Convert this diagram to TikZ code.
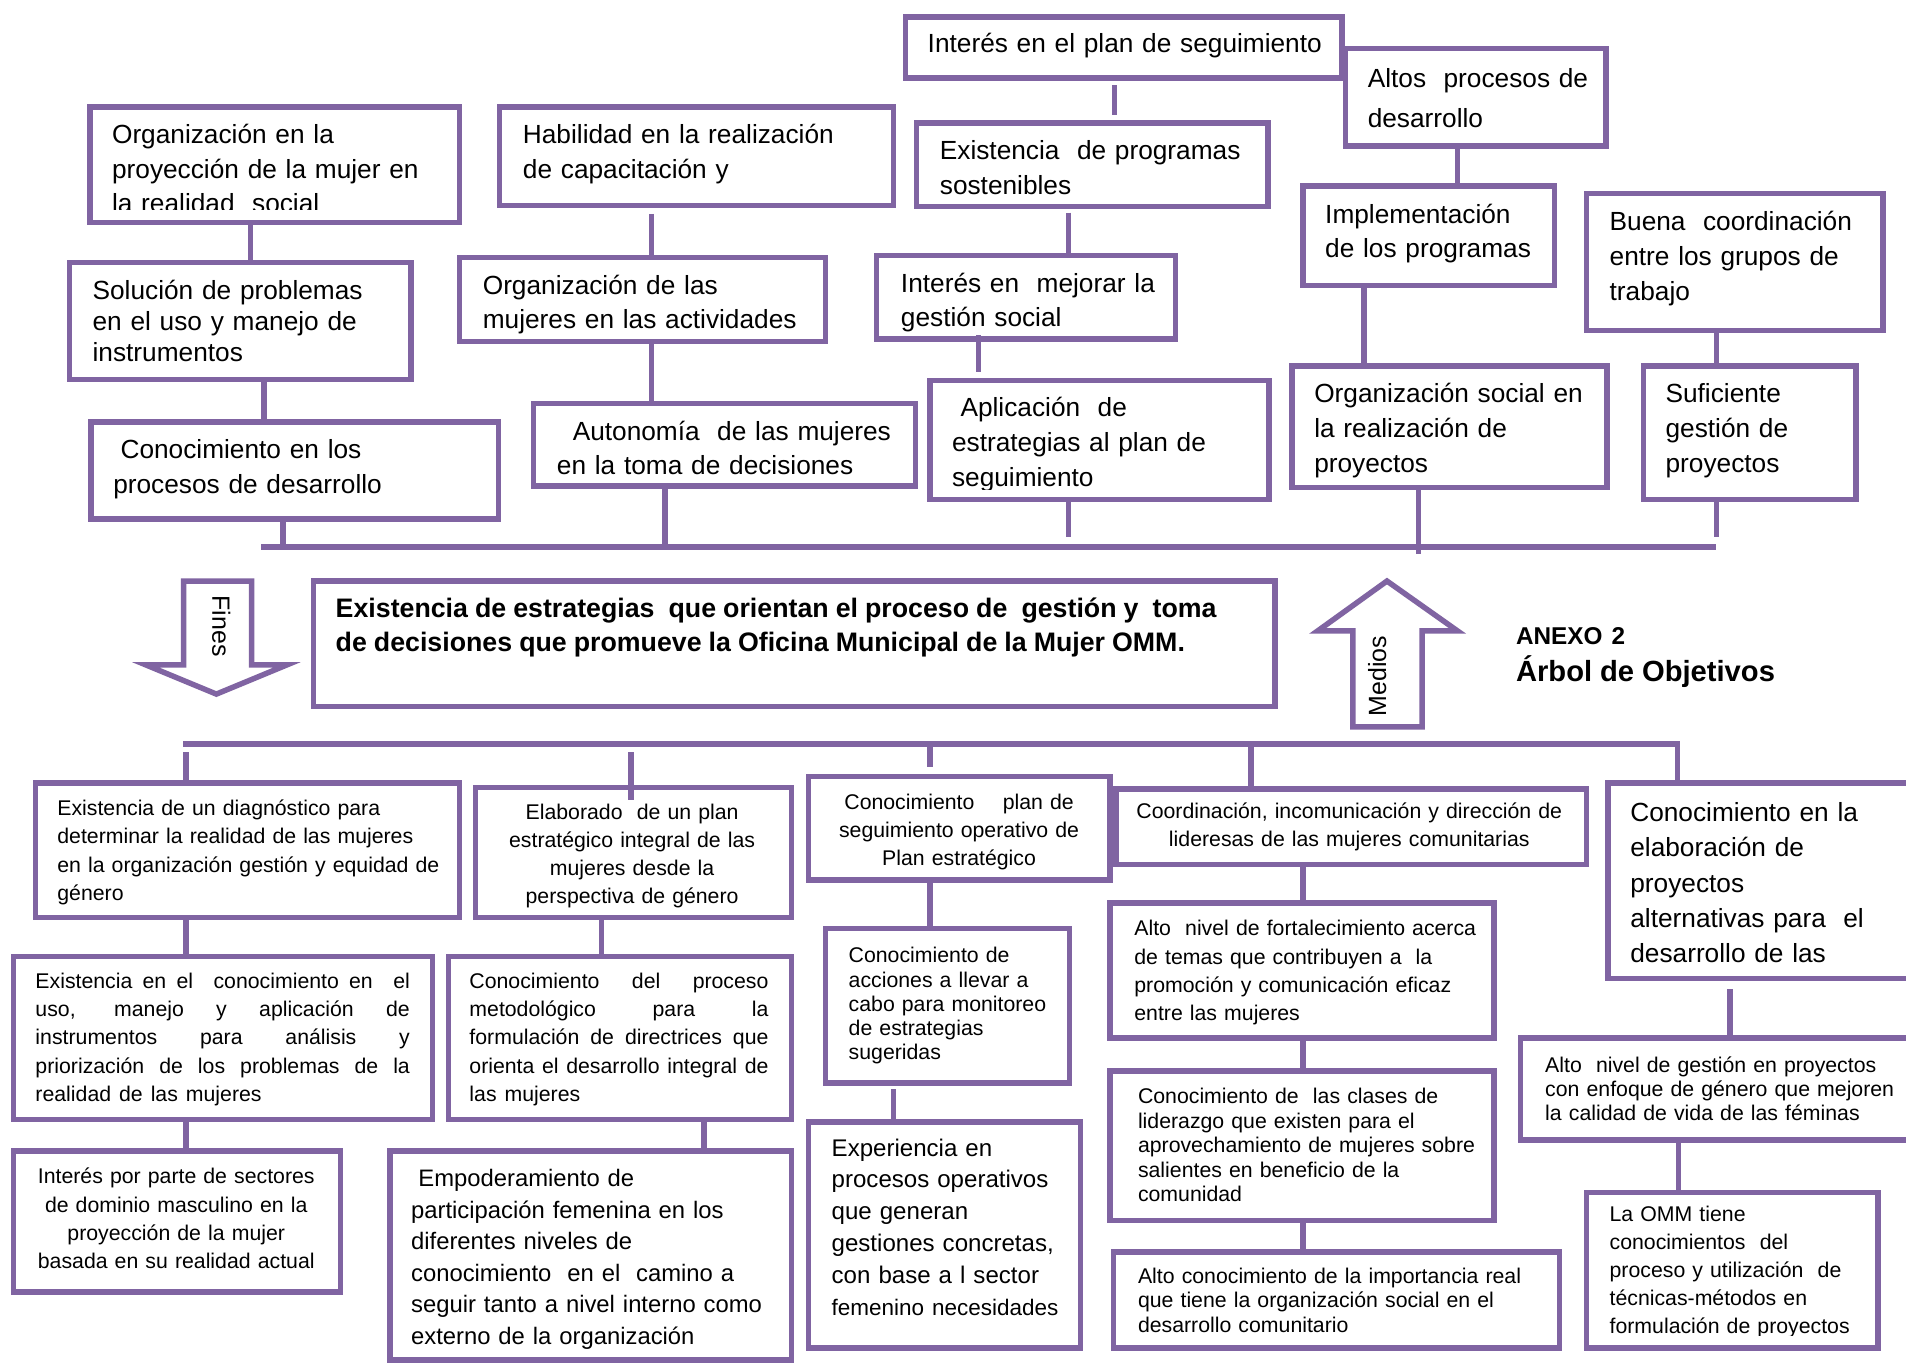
\documentclass[tikz,border=0pt]{standalone}
\usepackage{fontspec}
\setmainfont[WordSpace=1.35]{Liberation Sans}
\definecolor{pur}{HTML}{8064A2}
\tikzset{
  box/.style={draw=pur, line width=4.5pt, fill=white, inner sep=0pt, outer sep=0pt, anchor=north west},
  conn/.style={draw=pur, line width=4.5pt},
  bigarrow/.style={draw=pur, line width=4.5pt, fill=white, line join=miter},
  txt/.style={anchor=base west, inner sep=0pt, align=left, text width=#1},
  ctxt/.style={anchor=base, inner sep=0pt, align=center, text width=#1},
  jtxt/.style={anchor=base west, inner sep=0pt, align=justify, text width=#1},
  fb/.style={font=\fontsize{21.6}{#1}\selectfont},
  fs/.style={font=\fontsize{17.5}{#1}\selectfont},
}
\newcommand\mybox[5]{\node[box, minimum width={#4-#2}, minimum height={#5-#3}] (#1) at (#2,#3) {};}
\begin{document}
\begin{tikzpicture}[x=1pt,y=-1pt]
\useasboundingbox (0,0) rectangle (1568,1124);
\fill[white] (0,0) rectangle (1568,1124);

% ---------------- top boxes ----------------
\mybox{t1}{745}{14}{1104}{64}
\mybox{t2}{1107}{40}{1321}{120}
\mybox{t3}{74}{88}{378}{183}
\mybox{t4}{411}{88}{735}{169}
\mybox{t5}{754}{101}{1043}{170}
\mybox{t6}{1072}{153}{1279}{235}
\mybox{t7}{1305}{159}{1549}{272}
\mybox{t8}{57}{216}{338}{312}
\mybox{t9}{378}{212}{679}{281}
\mybox{t10}{721}{210}{967}{279}
\mybox{t11}{75}{347}{410}{427}
\mybox{t12}{439}{332}{753}{400}
\mybox{t13}{765}{313}{1044}{411}
\mybox{t14}{1063}{301}{1322}{401}
\mybox{t15}{1352}{301}{1527}{411}

\node[txt=345pt, fb=28] (t1x) at (763,43) {Interés en el plan de seguimiento};
\node[txt=200pt, fb=33] (t2x) at (1125,72) {Altos~ procesos de\\desarrollo};
\begin{scope}
\clip (74,88) rectangle (378,172);
\node[txt=285pt, fb=28.5] (t3x) at (92,118) {Organización en la\\proyección de la mujer en\\la realidad~ social};
\end{scope}
\node[txt=300pt, fb=29] (t4x) at (430,118) {Habilidad en la realización\\de capacitación y};
\node[txt=270pt, fb=29] (t5x) at (773,131) {Existencia~ de programas\\sostenibles};
\node[txt=195pt, fb=28] (t6x) at (1090,184) {Implementación\\de los programas};
\node[txt=225pt, fb=28.5] (t7x) at (1324,190) {Buena~ coordinación\\entre los grupos de\\trabajo};
\node[txt=265pt, fb=25.5] (t8x) at (76,246) {Solución de problemas\\en el uso y manejo de\\instrumentos};
\begin{scope}
\clip (378,212) rectangle (679,275);
\node[txt=280pt, fb=28] (t9x) at (397,242) {Organización de las\\mujeres en las actividades};
\end{scope}
\begin{scope}
\clip (721,210) rectangle (967,273);
\node[txt=225pt, fb=28] (t10x) at (741,241) {Interés en~ mejorar la\\gestión social};
\end{scope}
\node[txt=315pt, fb=29] (t11x) at (93,377) {\hspace*{6pt}Conocimiento en los\\procesos de desarrollo};
\node[txt=295pt, fb=28] (t12x) at (458,362) {\hspace*{13pt}Autonomía~ de las mujeres\\en la toma de decisiones};
\begin{scope}
\clip (765,313) rectangle (1044,403);
\node[txt=260pt, fb=28.5] (t13x) at (783,343) {\hspace*{7pt}Aplicación~ de\\estrategias al plan de\\seguimiento};
\end{scope}
\begin{scope}
\clip (1063,301) rectangle (1322,393);
\node[txt=240pt, fb=29] (t14x) at (1081,331) {Organización social en\\la realización de\\proyectos};
\end{scope}
\node[txt=155pt, fb=29] (t15x) at (1370,331) {Suficiente\\gestión de\\proyectos};

% top connectors
\draw[conn] ([yshift=-6pt]917,0 |- t1.south) -- ([yshift=6pt]917,0 |- t5.north);
\draw[conn] (1199,0 |- t2.south) -- (1199,0 |- t6.north);
\draw[conn] (206,0 |- t3.south) -- (206,0 |- t8.north);
\draw[conn] ([yshift=-7pt]536,0 |- t4.south) -- (536,0 |- t9.north);
\draw[conn] ([yshift=-5pt]879,0 |- t5.south) -- (879,0 |- t10.north);
\draw[conn] (1122,0 |- t6.south) -- (1122,0 |- t14.north);
\draw[conn] (1412,0 |- t7.south) -- (1412,0 |- t15.north);
\draw[conn] (217,0 |- t8.south) -- (217,0 |- t11.north);
\draw[conn] (536,0 |- t9.south) -- (536,0 |- t12.north);
\draw[conn] ([yshift=3pt]805,0 |- t10.south) -- ([yshift=7pt]805,0 |- t13.north);
\coordinate (barL) at (217,450);
\coordinate (barR) at (1412,450);
\draw[conn] (233,0 |- t11.south) -- (233,0 |- barL);
\draw[conn] (547,0 |- t12.south) -- (547,0 |- barL);
\draw[conn] (879,0 |- t13.south) -- ([yshift=8pt]879,0 |- barL);
\draw[conn] (1167,0 |- t14.south) -- ([yshift=-6pt]1167,0 |- barL);
\draw[conn] (1412,0 |- t15.south) -- ([yshift=8pt]1412,0 |- barL);
\draw[conn] ([xshift=-2.25pt]barL) -- (barR);

% ---------------- middle ----------------
\mybox{core}{258}{478}{1049}{581}
\node[txt=780pt, font=\fontsize{22}{28}\selectfont\bfseries] (corex) at (276,508) {\spaceskip=5.8pt plus 2pt minus 1pt Existencia de estrategias\ \ que orientan el proceso de\ \ gestión y\ \ toma\\de decisiones que promueve la Oficina Municipal de la Mujer OMM.};

\draw[bigarrow] (151,478) -- (207,478) -- (207,547) -- (236,547) -- (178,571) -- (120,547) -- (151,547) -- cycle;
\node[rotate=-90, inner sep=0pt, font=\fontsize{20.5}{24}\selectfont] (fines) at (182,515) {Fines};

\draw[bigarrow] (1141,478) -- (1199,519) -- (1170,519) -- (1170,598) -- (1113,598) -- (1113,519) -- (1084,519) -- cycle;
\node[rotate=90, inner sep=0pt, font=\fontsize{20.5}{24}\selectfont] (medios) at (1133,556) {Medios};

\node[anchor=base west, inner sep=0pt, font=\fontsize{20}{24}\selectfont\bfseries] (anexo) at (1247,530) {ANEXO 2};
\node[anchor=base west, inner sep=0pt, font=\fontsize{24}{28}\selectfont\bfseries] (arbol) at (1247,561) {\spaceskip=6.5pt Árbol de Objetivos};

% ---------------- bottom boxes ----------------
\mybox{b1}{29}{644}{378}{755}
\mybox{b2}{391}{648}{651}{755}
\mybox{b3}{665}{639}{913}{724}
\mybox{b4}{918}{649}{1305}{711}
\mybox{b5}{1323}{644}{1580}{805}
\mybox{c1}{11}{787}{356}{921}
\mybox{c2}{369}{787}{651}{921}
\mybox{c3}{679}{764}{880}{891}
\mybox{c4}{913}{743}{1229}{854}
\mybox{c5}{1251}{854}{1580}{938}
\mybox{d1}{11}{947}{280}{1063}
\mybox{d2}{321}{947}{651}{1119}
\mybox{d3}{665}{923}{889}{1109}
\mybox{d4}{913}{881}{1229}{1004}
\mybox{d5}{1305}{981}{1545}{1109}
\mybox{e4}{916}{1030}{1283}{1109}

\node[txt=330pt, fs=23.3] (b1x) at (47,671) {Existencia de un diagnóstico para\\determinar la realidad de las mujeres\\en la organización gestión y equidad de\\género};
\node[ctxt=250pt, fs=23] (b2x) at (520,674) {Elaborado~ de un plan\\estratégico integral de las\\mujeres desde la\\perspectiva de género};
\node[ctxt=240pt, fs=23] (b3x) at (789,666) {Conocimiento~~~ plan de\\seguimiento operativo de\\Plan estratégico};
\node[ctxt=385pt, fs=23] (b4x) at (1110,673) {Coordinación, incomunicación y dirección de\\lideresas de las mujeres comunitarias};
\node[txt=230pt, fb=29] (b5x) at (1341,676) {Conocimiento en la\\elaboración de\\proyectos\\alternativas para~ el\\desarrollo de las};

\node[jtxt=308pt, fs=23.3] (c1x) at (29,813) {Existencia en el~ conocimiento en~ el\linebreak uso, manejo y aplicación de\linebreak instrumentos para análisis y\linebreak priorización de los problemas de la\linebreak realidad de las mujeres};
\node[jtxt=246pt, fs=23.3] (c2x) at (386,813) {Conocimiento del proceso\linebreak metodológico para la\linebreak formulación de directrices que\linebreak orienta el desarrollo integral de\linebreak las mujeres};
\node[txt=180pt, fs=20] (c3x) at (698,792) {Conocimiento de\\acciones a llevar a\\cabo para monitoreo\\de estrategias\\sugeridas};
\node[txt=295pt, fs=23.3] (c4x) at (933,770) {Alto~ nivel de fortalecimiento acerca\\de temas que contribuyen a~ la\\promoción y comunicación eficaz\\entre las mujeres};
\node[txt=300pt, fs=20] (c5x) at (1271,882) {Alto~ nivel de gestión en proyectos\\con enfoque de género que mejoren\\la calidad de vida de las féminas};

\node[ctxt=260pt, fs=23.3] (d1x) at (145,974) {Interés por parte de sectores\\de dominio masculino en la\\proyección de la mujer\\basada en su realidad actual};
\node[txt=312pt, font=\fontsize{19.6}{26}\selectfont] (d2x) at (338,976) {\hspace*{6pt}Empoderamiento de\\participación femenina en los\\diferentes niveles de\\conocimiento~ en el~ camino a\\seguir tanto a nivel interno como\\externo de la organización};
\node[txt=200pt, font=\fontsize{19.8}{26.3}\selectfont] (d3x) at (684,951) {Experiencia en\\procesos operativos\\que generan\\gestiones concretas,\\con base a l sector\\{\fontsize{18.5}{26.3}\selectfont femenino necesidades}};
\node[txt=292pt, fs=20.2] (d4x) at (936,908) {Conocimiento de~ las clases de\\liderazgo que existen para el\\aprovechamiento de mujeres sobre\\salientes en beneficio de la\\comunidad};
\begin{scope}
\clip (1305,981) rectangle (1545,1098.5);
\node[txt=222pt, fs=23] (d5x) at (1324,1005) {La OMM tiene\\conocimientos~ del\\proceso y utilización~ de\\técnicas-métodos en\\formulación de proyectos};
\end{scope}
\node[txt=345pt, fs=20] (e4x) at (936,1056) {Alto conocimiento de la importancia real\\que tiene la organización social en el\\desarrollo comunitario};

% bottom connectors
\coordinate (bbL) at (153,612);
\coordinate (bbR) at (1380,612);
\draw[conn] ([xshift=-2.25pt]bbL) -- ([xshift=2.25pt]bbR);
\draw[conn] (bbR) -- (1380,0 |- b5.north);
\draw[conn] ([yshift=-7pt]bbL) -- (153,0 |- b1.north);
\draw[conn] ([yshift=-7pt]519,0 |- bbL) -- ([yshift=-10pt]519,0 |- b2.north);
\draw[conn] (765,0 |- bbL) -- ([yshift=8pt]765,0 |- b3.north);
\draw[conn] (1029,0 |- bbL) -- (1029,0 |- b4.north);
\draw[conn] (153,0 |- b1.south) -- (153,0 |- c1.north);
\draw[conn] (495,0 |- b2.south) -- (495,0 |- c2.north);
\draw[conn] (765,0 |- b3.south) -- (765,0 |- c3.north);
\draw[conn] (1072,0 |- b4.south) -- (1072,0 |- c4.north);
\draw[conn] ([yshift=-9pt]1423,0 |- b5.south) -- (1423,0 |- c5.north);
\draw[conn] (153,0 |- c1.south) -- (153,0 |- d1.north);
\draw[conn] (579,0 |- c2.south) -- (579,0 |- d2.north);
\draw[conn] ([yshift=-5pt]735,0 |- c3.south) -- (735,0 |- d3.north);
\draw[conn] (1072,0 |- c4.south) -- (1072,0 |- d4.north);
\draw[conn] (1381,0 |- c5.south) -- (1381,0 |- d5.north);
\draw[conn] (1072,0 |- d4.south) -- (1072,0 |- e4.north);
\end{tikzpicture}
\end{document}
